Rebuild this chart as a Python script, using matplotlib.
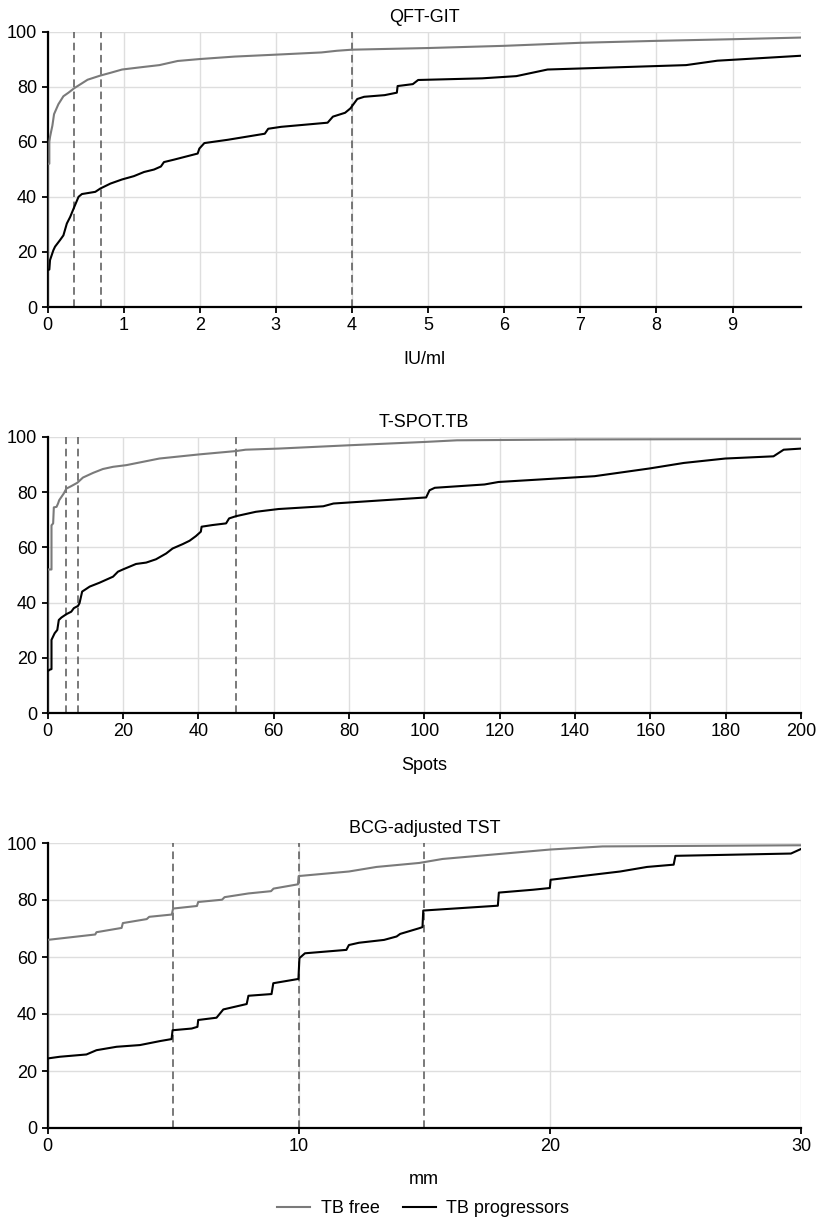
import matplotlib
matplotlib.use("Agg")
import matplotlib.pyplot as plt
from matplotlib.lines import Line2D

plt.rcParams['font.family'] = ['Liberation Sans', 'DejaVu Sans']
FS = 13
plt.rcParams['font.size'] = FS

# ---------------- data ----------------
# QFT-GIT (IU/ml)
qft_free_x = [0, 0, 0.024, 0.024, 0.033, 0.05, 0.064, 0.086, 0.143, 0.209, 0.276, 0.35, 0.43,
              0.527, 0.694, 0.827, 0.98, 1.22, 1.47, 1.71, 2.0, 2.46, 3.08, 3.6, 3.8, 4.0,
              5.0, 6.0, 7.0, 8.0, 9.0, 9.9]
qft_free_y = [0, 52, 52, 60, 61.7, 64, 65.8, 70, 73.6, 76.5, 77.8, 79.4, 80.8,
              82.5, 84, 85, 86.2, 87, 87.8, 89.3, 90, 90.9, 91.7, 92.4, 93.0, 93.4,
              94.0, 94.8, 95.9, 96.6, 97.2, 97.8]

qft_prog_x = [0, 0, 0.024, 0.033, 0.077, 0.099, 0.165, 0.209, 0.254, 0.298, 0.35, 0.408,
              0.452, 0.628, 0.694, 0.827, 0.98, 1.135, 1.268, 1.4, 1.49, 1.53, 1.664,
              1.973, 1.995, 2.061, 2.37, 2.855, 2.9, 3.07, 3.68, 3.75, 3.91, 3.98, 4.07,
              4.16, 4.43, 4.59, 4.6, 4.8, 4.87, 5.71, 6.16, 6.57, 8.39, 8.8, 9.9]
qft_prog_y = [0, 13.4, 13.6, 17, 20.6, 21.9, 24.3, 26, 30.3, 32.7, 36.2, 40,
              41, 41.8, 43, 44.8, 46.3, 47.5, 49, 49.9, 51, 52.6, 53.5,
              55.7, 57.5, 59.5, 60.7, 62.9, 64.7, 65.4, 66.9, 69.1, 70.5, 72.1, 75.5,
              76.3, 76.9, 77.8, 80.2, 80.9, 82.4, 83, 83.8, 86.2, 87.8, 89.4, 91.2]

# T-SPOT.TB (spots)
tspot_free_x = [0, 0, 1.06, 1.06, 1.5, 1.68, 2.4, 2.8, 3.1, 3.7, 4.3, 5.0, 6.3, 7.9, 9.4,
                12.1, 14.7, 17.4, 20.9, 25.3, 29.7, 40.3, 50, 52.6, 61.3, 80, 100,
                108.7, 140, 200]
tspot_free_y = [0, 52, 52, 68, 68.7, 74.5, 74.7, 75.9, 77.1, 78.3, 79.5, 81.3, 82.2,
                83.4, 85.3, 87, 88.4, 89.2, 89.8, 91, 92.2, 93.7, 94.9, 95.4, 95.8,
                97, 98.2, 98.8, 99.1, 99.3]

tspot_prog_x = [0, 0, 0.6, 1.06, 1.06, 1.9, 2.6, 3.0, 3.7, 5.0, 6.3, 7.0, 8.1, 8.5, 9.2,
                10.1, 11.2, 13.8, 17.4, 18.7, 20, 23.5, 26.2, 28.8, 31.5, 33.2, 35.9,
                37.7, 39.4, 40.7, 40.9, 43.8, 47.4, 48.2, 50, 55.3, 61.3, 73.2, 75.9,
                100.5, 101.4, 102.8, 116, 119.7, 145.2, 159.8, 168.9, 179.9, 192.7,
                195.4, 200]
tspot_prog_y = [0, 15.1, 15.7, 15.9, 26.5, 28.9, 30.1, 33.7, 34.6, 35.8, 36.7, 38, 38.8,
                39.8, 44, 44.8, 45.8, 47.2, 49.4, 51.2, 52, 54, 54.5, 55.7, 57.8, 59.6,
                61.2, 62.4, 64.1, 65.7, 67.5, 68.1, 68.7, 70.5, 71.3, 72.9, 73.9, 74.9,
                75.9, 78.1, 80.7, 81.6, 82.8, 83.7, 85.8, 88.6, 90.6, 92.2, 93, 95.4,
                95.8]

# BCG-adjusted TST (mm)
tst_free_x = [0, 0, 1.9, 1.95, 2.95, 3.0, 3.95, 4.05, 4.95, 5.0, 5.95, 6.0, 6.95, 7.05,
              8.0, 8.9, 9.0, 9.97, 10.0, 12.0, 13.1, 14.8, 15.73, 20.0, 22.1, 30.0]
tst_free_y = [0, 66, 67.9, 68.7, 70.2, 71.9, 73.3, 74.1, 74.9, 77, 77.9, 79.3, 80.1, 81,
              82.3, 83.1, 84, 85.5, 88.4, 90, 91.6, 93, 94.4, 97.7, 98.8, 99.2]

tst_prog_x = [0, 0, 0.49, 1.55, 1.95, 2.75, 3.68, 4.48, 4.94, 4.98, 5.74, 5.97, 6.0, 6.73,
              7.0, 7.93, 8.0, 8.92, 8.99, 9.99, 10.03, 10.25, 11.9, 12.0, 12.4, 13.4,
              13.9, 14.04, 14.8, 14.93, 14.96, 17.93, 17.97, 19.33, 20.0, 20.03, 22.8,
              23.87, 24.93, 25.0, 29.6, 30.0]
tst_prog_y = [0, 24.4, 25, 25.8, 27.3, 28.5, 29.1, 30.5, 31.2, 34.3, 34.9, 35.5, 37.9,
              38.7, 41.6, 43.5, 46.4, 47, 50.8, 52.3, 59.6, 61.3, 62.5, 64.2, 65, 66,
              67.2, 68.1, 70.1, 70.5, 76.3, 78, 82.6, 83.6, 84.2, 87.1, 90, 91.6, 92.4,
              95.5, 96.3, 97.9]

panel_titles = ["QFT-GIT", "T-SPOT.TB", "BCG-adjusted TST"]
panel_xlabels = ["IU/ml", "Spots", "mm"]
panel_cutoffs = [[0.35, 0.7, 4.0], [5, 8, 50], [5, 10, 15]]
panel_xticks = [list(range(0, 10)), list(range(0, 201, 20)), [0, 10, 20, 30]]
panel_xlims = [(0, 9.9), (0, 200), (0, 30)]
y_ticks = [0, 20, 40, 60, 80, 100]
series_labels = ["TB free", "TB progressors"]

free_data = [(qft_free_x, qft_free_y), (tspot_free_x, tspot_free_y), (tst_free_x, tst_free_y)]
prog_data = [(qft_prog_x, qft_prog_y), (tspot_prog_x, tspot_prog_y), (tst_prog_x, tst_prog_y)]

# ---------------- styling ----------------
W, H = 822, 1219
fig = plt.figure(figsize=(W / 100, H / 100), dpi=100)

free_color = "#7a7a7a"
prog_color = "#000000"
grid_color = "#dedede"
dash_color = "#555555"

left_px, right_px = 47.5, 801
# (top_px, bottom_px) per panel
panel_px = [(31.5, 307), (437, 713), (843, 1128)]
xlabel_pads = [12, 12, 11]

for i in range(3):
    top_px, bot_px = panel_px[i]
    ax = fig.add_axes([left_px / W, 1 - bot_px / H, (right_px - left_px) / W, (bot_px - top_px) / H])
    ax.set_xlim(*panel_xlims[i])
    ax.set_ylim(0, 100)
    ax.set_xticks(panel_xticks[i])
    ax.set_yticks(y_ticks)
    ax.grid(True, color=grid_color, linewidth=1.0)
    ax.set_axisbelow(True)
    for c in panel_cutoffs[i]:
        ax.axvline(c, color=dash_color, linewidth=1.1, linestyle=(0, (5, 3)), zorder=2)
    fx, fy = free_data[i]
    px, py = prog_data[i]
    ax.plot(fx, fy, color=free_color, linewidth=1.5, zorder=3, solid_joinstyle='round')
    ax.plot(px, py, color=prog_color, linewidth=1.5, zorder=3, solid_joinstyle='round')
    for s in ["top", "right"]:
        ax.spines[s].set_visible(False)
    for s in ["left", "bottom"]:
        ax.spines[s].set_linewidth(1.6)
        ax.spines[s].set_color("black")
    ax.tick_params(axis='both', direction='out', length=4.5, width=1.3, color='black',
                   labelsize=FS, pad=3)
    ax.set_title(panel_titles[i], fontsize=FS, pad=7)
    ax.set_xlabel(panel_xlabels[i], fontsize=FS, labelpad=xlabel_pads[i])

handles = [Line2D([], [], color=free_color, linewidth=1.5),
           Line2D([], [], color=prog_color, linewidth=1.5)]
fig.legend(handles, series_labels, loc='lower center', bbox_to_anchor=(0.515, -0.012),
           ncol=2, frameon=False, fontsize=FS, handlelength=1.8, columnspacing=1.3,
           handletextpad=0.6)

fig.savefig("out.png", dpi=100)
